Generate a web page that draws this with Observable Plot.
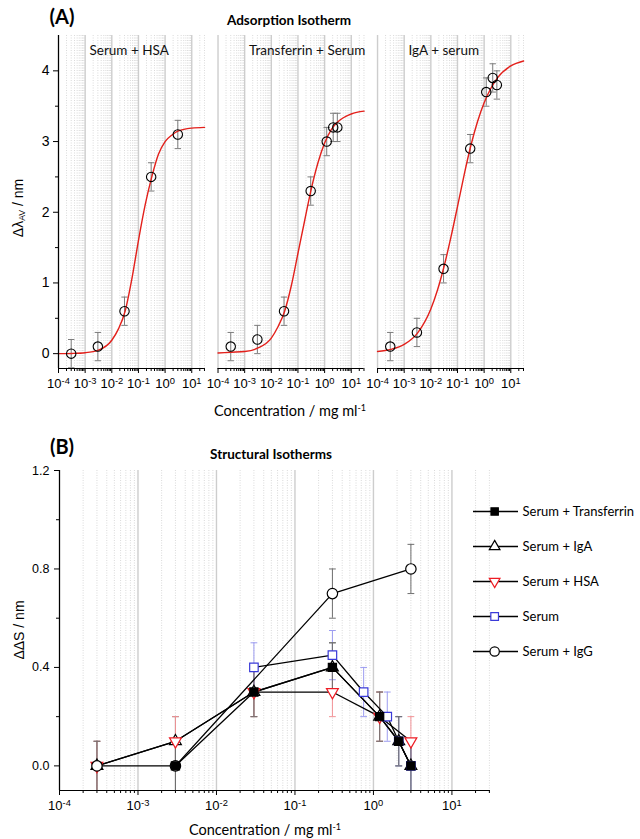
<!DOCTYPE html>
<html>
<head>
<meta charset="utf-8">
<script src="https://cdn.jsdelivr.net/npm/d3@7"></script>
<script src="https://cdn.jsdelivr.net/npm/@observablehq/plot@0.6"></script>
<style>
  body { margin: 0; background: #fff; }
  #wrap { position: relative; width: 640px; height: 839px; overflow: hidden; background: #fff; }
  .box { position: absolute; }
  .t { position: absolute; transform: translate(-50%, -50%); white-space: nowrap; line-height: 1; color: #000; font-family: Lato, "Open Sans", sans-serif; }
  .t sub { font-size: 0.62em; vertical-align: -0.25em; }
  .t sup { font-size: 0.62em; vertical-align: 0.55em; }
</style>
</head>
<body>
<div id="wrap"></div>
<script>
// ---------------- Panel A data ----------------
const panelNames = ["Serum + HSA", "Transferrin + Serum", "IgA + serum"];

const concHSA_A = [3e-4, 3e-3, 3e-2, 3e-1, 3];
const valHSA_A  = [0, 0.1, 0.6, 2.5, 3.1];
const errHSA_A  = [0.2, 0.2, 0.2, 0.2, 0.2];

const concTf_A = [3e-4, 3e-3, 3e-2, 3e-1, 1.2, 2.1, 3];
const valTf_A  = [0.1, 0.2, 0.6, 2.3, 3.0, 3.2, 3.2];
const errTf_A  = [0.2, 0.2, 0.2, 0.2, 0.2, 0.2, 0.2];

const concIgA_A = [3e-4, 3e-3, 3e-2, 3e-1, 1.2, 2.1, 3];
const valIgA_A  = [0.1, 0.3, 1.2, 2.9, 3.7, 3.9, 3.8];
const errIgA_A  = [0.2, 0.2, 0.2, 0.2, 0.2, 0.2, 0.2];

// fitted curves at these log10 concentrations
const fitLogConc = [-4, -3.5, -3, -2.5, -2, -1.75, -1.5, -1.25, -1, -0.75, -0.5, -0.25, 0, 0.25, 0.5, 1, 1.48];
const fitHSA = [0.0, 0.003, 0.013, 0.05, 0.19, 0.35, 0.6, 1.05, 1.6, 2.1, 2.5, 2.82, 3.0, 3.09, 3.15, 3.19, 3.2];
const fitTf  = [0.01, 0.02, 0.03, 0.08, 0.22, 0.38, 0.6, 0.96, 1.42, 1.88, 2.33, 2.7, 2.98, 3.17, 3.28, 3.39, 3.43];
const fitIgA = [0.03, 0.06, 0.13, 0.29, 0.63, 0.9, 1.24, 1.64, 2.08, 2.53, 2.94, 3.28, 3.55, 3.75, 3.9, 4.07, 4.14];

// ---------------- Panel B data ----------------
const concTf_B = [3e-3, 3e-2, 0.3, 1.2, 2.1, 3];
const valTf_B  = [0, 0.3, 0.4, 0.2, 0.1, 0];
const errTf_B  = [0.1, 0.1, 0.1, 0.1, 0.1, 0.1];

const concIgA_B = [3e-4, 3e-3, 3e-2, 0.3, 1.2, 2.1, 3];
const valIgA_B  = [0, 0.1, 0.3, 0.4, 0.2, 0.1, 0];
const errIgA_B  = [0.1, 0.1, 0.1, 0.1, 0.1, 0.1, 0.1];

const concHSA_B = [3e-4, 3e-3, 3e-2, 0.3, 1.2, 3];
const valHSA_B  = [0, 0.1, 0.3, 0.3, 0.2, 0.1];
const errHSA_B  = [0.1, 0.1, 0.1, 0.1, 0.1, 0.1];

const concSerum_B = [3e-2, 0.3, 0.75, 1.5, 2.1, 3];
const valSerum_B  = [0.4, 0.45, 0.3, 0.2, 0.1, 0];
const errSerum_B  = [0.1, 0.1, 0.1, 0.1, 0.1, 0.1];

const concIgG_B = [3e-4, 3e-3, 0.3, 3];
const valIgG_B  = [0, 0, 0.7, 0.8];
const errIgG_B  = [0.1, 0.1, 0.1, 0.1];

const legendNames = ["Serum + Transferrin", "Serum + IgA", "Serum + HSA", "Serum", "Serum + IgG"];

// ---------------- ticks ----------------
const majorTicks = [1e-4, 1e-3, 1e-2, 1e-1, 1, 10];
const majorTickLabels = ["10^-4", "10^-3", "10^-2", "10^-1", "10^0", "10^1"];
const minorMult = [2, 3, 4, 5, 6, 7, 8, 9];
const yTicksA = [0, 1, 2, 3, 4];
const yMinorA = [0.5, 1.5, 2.5, 3.5];
const yTicksB = [0, 0.4, 0.8, 1.2];
const yMinorB = [0.2, 0.6, 1.0];

// ---------------- helpers ----------------
const wrap = document.getElementById("wrap");
const tickFmt = d => majorTickLabels[majorTicks.indexOf(d)];
const capSymbol = { draw(ctx, size) { const w = Math.sqrt(size / Math.PI); ctx.moveTo(-w, 0); ctx.lineTo(w, 0); } };
const triangleDown = { draw(ctx, size) {
  const a = Math.sqrt(size * 4 / Math.sqrt(3)), R = a / Math.sqrt(3);
  ctx.moveTo(0, R); ctx.lineTo(a / 2, -R / 2); ctx.lineTo(-a / 2, -R / 2); ctx.closePath();
} };
const tickFont = "'Liberation Sans', Arimo, Arial, sans-serif";
const textFont = "Lato, 'Open Sans', sans-serif";

function place(node, left, top) {
  const d = document.createElement("div");
  d.className = "box"; d.style.left = left + "px"; d.style.top = top + "px";
  d.appendChild(node); wrap.appendChild(d);
}
function label(html, x, y, css = {}) {
  const d = document.createElement("div");
  d.className = "t"; d.style.left = x + "px"; d.style.top = y + "px";
  d.innerHTML = html; Object.assign(d.style, css); wrap.appendChild(d);
}
// turn "10^-4" tick labels into 10 with a raised exponent
function superscriptTicks(svg) {
  d3.select(svg).selectAll("text").each(function () {
    const m = /^10\^(-?\d+)$/.exec(this.textContent);
    if (!m) return;
    const sel = d3.select(this);
    sel.text(null);
    sel.append("tspan").text("10");
    sel.append("tspan").attr("dy", "-0.45em").attr("font-size", "0.72em").text(m[1]);
  });
}

// ---------------- Panel A ----------------
const setsA = [
  [panelNames[0], concHSA_A, valHSA_A, errHSA_A, fitHSA],
  [panelNames[1], concTf_A, valTf_A, errTf_A, fitTf],
  [panelNames[2], concIgA_A, valIgA_A, errIgA_A, fitIgA]
];
const ptsA = setsA.flatMap(([p, c, v, e]) => c.map((x, i) => ({ panel: p, x, y: v[i], e: e[i] })));
const capsA = ptsA.flatMap(d => [{ panel: d.panel, x: d.x, y: d.y - d.e }, { panel: d.panel, x: d.x, y: d.y + d.e }]);
const fitA = setsA.flatMap(([p, , , , f]) => fitLogConc.map((l, i) => ({ panel: p, x: Math.pow(10, l), y: f[i] })));

const xDomA = [1e-4, 30];
const yDomA = [-0.21, 4.5];
const minorA = majorTicks.flatMap(d => minorMult.map(m => m * d)).filter(v => v <= xDomA[1] * 1.0001);

const gridMinor = { stroke: "#b4b4b4", strokeOpacity: 0.7, strokeDasharray: "1,1.5", strokeWidth: 0.7 };
const gridMajor = { stroke: "#cdcdcd", strokeOpacity: 1, strokeWidth: 1.4 };

const plotA = Plot.plot({
  width: 640, height: 400,
  marginTop: 35, marginBottom: 32, marginLeft: 58, marginRight: 117,
  style: { fontFamily: tickFont, fontSize: "12px", color: "#000", background: "transparent" },
  fx: { domain: panelNames, paddingInner: 0.085, paddingOuter: 0, round: false, axis: null },
  x: { type: "log", domain: xDomA, axis: null },
  y: { domain: yDomA, axis: null },
  marks: [
    Plot.gridX(minorA, gridMinor),
    Plot.gridX(majorTicks, gridMajor),
    Plot.ruleX(ptsA, { x: "x", y1: d => d.y - d.e, y2: d => d.y + d.e, fx: "panel", stroke: "#7d7d7d", strokeWidth: 1 }),
    Plot.dot(capsA, { x: "x", y: "y", fx: "panel", symbol: capSymbol, r: 3.2, stroke: "#7d7d7d", fill: "none", strokeWidth: 1 }),
    Plot.line(fitA, { x: "x", y: "y", fx: "panel", stroke: "#e3201b", strokeWidth: 1.4, curve: "monotone-x" }),
    Plot.dot(ptsA, { x: "x", y: "y", fx: "panel", r: 4.7, stroke: "#000", fill: "none", strokeWidth: 1.1 }),
    Plot.text(panelNames, { fx: d => d, text: d => d, frameAnchor: "top-left", textAnchor: "start", lineAnchor: "middle",
      dx: 31, dy: 15, fontSize: 13.5, fontFamily: textFont, fill: "#111" }),
    Plot.ruleY([yDomA[0]], { stroke: "#000", strokeWidth: 1.2 }),
    Plot.ruleX([xDomA[0]], { stroke: "#000", strokeWidth: 1.2, facetAnchor: "left" }),
    Plot.axisX(majorTicks, { tickFormat: tickFmt, tickSize: 5, tickPadding: 5, fontSize: 13, label: null, facetAnchor: "bottom" }),
    Plot.axisX(minorA, { tickFormat: () => "", tickSize: 3, label: null, facetAnchor: "bottom" }),
    Plot.axisY(yTicksA, { tickFormat: d3.format("d"), tickSize: 5, tickPadding: 4, fontSize: 14, label: null, facetAnchor: "left" }),
    Plot.axisY(yMinorA, { tickFormat: () => "", tickSize: 3, label: null, facetAnchor: "left" })
  ]
});
superscriptTicks(plotA);
place(plotA, 0, 0);

// ---------------- Panel B ----------------
const seriesB = [
  ["Serum + IgA", concIgA_B, valIgA_B, errIgA_B],
  ["Serum + HSA", concHSA_B, valHSA_B, errHSA_B],
  ["Serum + IgG", concIgG_B, valIgG_B, errIgG_B],
  ["Serum", concSerum_B, valSerum_B, errSerum_B],
  ["Serum + Transferrin", concTf_B, valTf_B, errTf_B]
];
const styleB = {
  "Serum + Transferrin": { symbol: "square", stroke: "#000", fill: "#000", r: 4.6, err: "#6e6e6e" },
  "Serum + IgA": { symbol: "triangle", stroke: "#000", fill: "#fff", r: 4.4, err: "#6e6e6e" },
  "Serum + HSA": { symbol: triangleDown, stroke: "#ee1c24", fill: "#fff", r: 4.4, err: "#f29397" },
  "Serum": { symbol: "square", stroke: "#3a3ad8", fill: "#fff", r: 4.8, err: "#9c9cf0" },
  "Serum + IgG": { symbol: "circle", stroke: "#000", fill: "#fff", r: 5.2, err: "#6e6e6e" }
};
const rowsB = seriesB.map(([name, c, v, e]) => ({ name, rows: c.map((x, i) => ({ x, y: v[i], e: e[i] })) }));

const xDomB = [1e-4, 31];
const yDomB = [-0.1, 1.2];
const minorB = majorTicks.flatMap(d => minorMult.map(m => m * d)).filter(v => v <= xDomB[1]);

const marksB = [
  Plot.gridX(minorB, gridMinor),
  Plot.gridX(majorTicks, gridMajor)
];
for (const s of rowsB) {
  const st = styleB[s.name];
  const caps = s.rows.flatMap(d => [{ x: d.x, y: d.y - d.e }, { x: d.x, y: d.y + d.e }]).filter(d => d.y >= yDomB[0] - 1e-9);
  marksB.push(Plot.ruleX(s.rows, { x: "x", y1: d => Math.max(yDomB[0], d.y - d.e), y2: d => d.y + d.e, stroke: st.err, strokeWidth: 1 }));
  marksB.push(Plot.dot(caps, { x: "x", y: "y", symbol: capSymbol, r: 3.4, stroke: st.err, fill: "none", strokeWidth: 1 }));
}
for (const s of rowsB) {
  marksB.push(Plot.line(s.rows, { x: "x", y: "y", stroke: "#000", strokeWidth: 1.3 }));
}
for (const s of rowsB) {
  const st = styleB[s.name];
  marksB.push(Plot.dot(s.rows, { x: "x", y: "y", symbol: st.symbol, r: st.r, stroke: st.stroke, fill: st.fill, strokeWidth: 1.2 }));
}
marksB.push(
  Plot.ruleY([yDomB[0]], { stroke: "#000", strokeWidth: 1.2 }),
  Plot.ruleX([xDomB[0]], { stroke: "#000", strokeWidth: 1.2 }),
  Plot.axisX(majorTicks, { tickFormat: tickFmt, tickSize: 5, tickPadding: 5, fontSize: 13, label: null }),
  Plot.axisX(minorB, { tickFormat: () => "", tickSize: 3, label: null }),
  Plot.axisY(yTicksB, { tickFormat: d3.format(".1f"), tickSize: 5, tickPadding: 5, fontSize: 12.5, label: null }),
  Plot.axisY(yMinorB, { tickFormat: () => "", tickSize: 3, label: null })
);

const plotB = Plot.plot({
  width: 640, height: 400,
  marginTop: 50, marginBottom: 30, marginLeft: 59, marginRight: 150,
  style: { fontFamily: tickFont, fontSize: "12px", color: "#000", background: "transparent" },
  x: { type: "log", domain: xDomB, axis: null },
  y: { domain: yDomB, axis: null },
  marks: marksB
});
superscriptTicks(plotB);
place(plotB, 0, 420);

// ---------------- Legend (panel B) ----------------
const legendMarks = [
  Plot.ruleY(legendNames, { y: d => d, x1: 0, x2: 1, stroke: "#000", strokeWidth: 1.3 })
];
for (const n of legendNames) {
  const st = styleB[n];
  legendMarks.push(Plot.dot([n], { x: 0.47, y: d => d, symbol: st.symbol, r: st.r * 0.9, stroke: st.stroke, fill: st.fill, strokeWidth: 1.2 }));
}
legendMarks.push(Plot.text(legendNames, { x: 1, y: d => d, text: d => d, textAnchor: "start", dx: 4, fontSize: 13, fontFamily: textFont, fill: "#000" }));
const legend = Plot.plot({
  width: 180, height: 240, margin: 0,
  style: { background: "transparent" },
  x: { domain: [0, 1], range: [13, 58], axis: null },
  y: { type: "point", domain: legendNames, range: [32, 209], axis: null },
  marks: legendMarks
});
place(legend, 460, 460);

// ---------------- titles & axis labels ----------------
label("(A)", 62, 16, { fontWeight: "700", fontSize: "20px" });
label("Adsorption Isotherm", 289, 21, { fontWeight: "700", fontSize: "13.5px" });
label("\u0394\u03BB<sub>AV</sub> / nm", 19, 208, { fontSize: "14px", fontFamily: tickFont, transform: "translate(-50%,-50%) rotate(-90deg)" });
label("Concentration / mg ml<sup>-1</sup>", 290, 411, { fontSize: "14.5px" });

label("(B)", 62, 446, { fontWeight: "700", fontSize: "20px" });
label("Structural Isotherms", 271, 455, { fontWeight: "700", fontSize: "13.5px" });
label("\u0394\u0394S / nm", 19, 630, { fontSize: "14px", fontFamily: tickFont, transform: "translate(-50%,-50%) rotate(-90deg)" });
label("Concentration / mg ml<sup>-1</sup>", 265, 830, { fontSize: "14.5px" });
</script>
</body>
</html>
